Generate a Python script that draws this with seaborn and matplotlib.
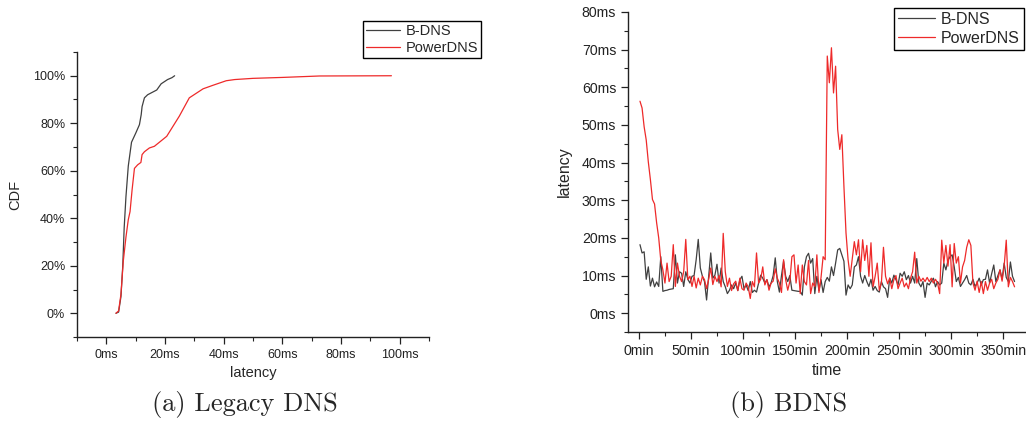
import numpy as np
import pandas as pd
import matplotlib
matplotlib.use("Agg")
import matplotlib.pyplot as plt
import seaborn as sns
from matplotlib.ticker import MultipleLocator, FuncFormatter

# (a) CDF of latency, legacy DNS
bdns_cdf_ms = [3.3, 4.2, 5.0, 5.6, 6.1, 6.7, 7.5, 8.6, 10.1, 11.3, 11.9, 12.2, 13.0, 14.1,
               17.2, 18.7, 20.9, 22.4, 23.3]
bdns_cdf_pct = [0, 0.5, 7, 19.6, 36, 49, 62, 72, 76, 79.4, 83.6, 87, 90.7, 92,
                94, 96.6, 98.4, 99.2, 100]
pdns_cdf_ms = [3.3, 4.2, 5.0, 5.8, 6.7, 7.5, 8.1, 8.8, 9.6, 10.7, 11.8, 12.2, 13.0, 14.7,
               16.4, 20.6, 24.9, 28.3, 33.0, 36.4, 40.9, 43.8, 50.0, 60.2, 72.7, 97.2]
pdns_cdf_pct = [0, 1, 8, 22, 32, 39.4, 42.8, 52, 61, 62.5, 63.5, 66.8, 68, 69.6,
                70.3, 74.5, 83, 90.7, 94.5, 96, 97.9, 98.4, 98.9, 99.3, 99.9, 100]

# (b) latency over time, sampled every 2 min starting at 1 min
bdns_latency = [
    18.2, 16.0, 16.3, 9.0, 12.3, 7.2, 9.3, 7.0, 8.3, 7.1,
    15.0, 5.8, 6.0, 6.1, 6.3, 6.4, 6.5, 15.5, 8.0, 11.0,
    10.6, 7.1, 11.0, 9.0, 8.0, 9.8, 10.0, 14.2, 19.6, 12.0,
    9.8, 8.4, 3.5, 9.8, 16.0, 9.3, 10.1, 13.0, 8.0, 12.0,
    8.4, 7.0, 5.2, 6.1, 7.5, 6.5, 8.0, 6.0, 8.9, 9.8,
    6.5, 7.5, 6.0, 8.4, 5.5, 6.1, 5.6, 8.0, 10.1, 9.3,
    8.0, 8.9, 7.0, 8.0, 10.0, 14.7, 8.4, 5.6, 10.0, 13.8,
    9.8, 8.4, 10.0, 6.1, 6.0, 5.9, 5.8, 5.8, 4.8, 12.3,
    15.0, 15.9, 13.3, 14.5, 5.2, 9.8, 6.0, 8.9, 5.5, 8.4,
    9.5, 8.5, 12.3, 10.0, 13.3, 16.8, 17.2, 15.5, 13.8, 4.8,
    7.5, 6.5, 7.5, 12.3, 12.8, 15.0, 9.8, 8.0, 10.0, 8.4,
    7.1, 9.0, 6.1, 7.1, 6.0, 5.6, 8.4, 7.0, 6.5, 4.2,
    9.3, 8.0, 10.1, 8.9, 7.5, 10.6, 9.8, 11.0, 8.9, 10.0,
    8.0, 9.8, 8.0, 14.5, 8.0, 7.0, 8.4, 4.2, 8.0, 7.5,
    8.5, 9.3, 7.0, 8.4, 7.5, 8.0, 13.3, 11.5, 14.0, 15.0,
    15.5, 12.3, 8.4, 9.5, 7.1, 8.0, 8.9, 10.0, 8.0, 7.5,
    9.0, 7.1, 8.0, 9.3, 7.5, 8.9, 9.0, 11.5, 8.0, 10.5,
    12.8, 8.4, 10.0, 11.5, 9.0, 13.3, 9.5, 8.4, 13.6, 9.8,
    8.4,
]
pdns_latency = [
    56.3, 54.5, 49.5, 46.0, 40.2, 35.5, 30.2, 29.0, 24.0, 20.0,
    14.0, 11.5, 8.0, 13.3, 8.4, 9.8, 18.2, 7.1, 13.3, 9.8,
    8.4, 11.0, 19.6, 8.9, 9.8, 7.1, 9.8, 6.7, 9.3, 7.5,
    9.8, 8.9, 6.5, 9.0, 12.0, 7.6, 9.8, 8.4, 10.0, 7.0,
    21.2, 11.0, 7.1, 9.3, 6.0, 7.8, 8.5, 6.0, 9.3, 6.5,
    6.1, 8.0, 7.0, 3.9, 8.4, 7.0, 16.0, 8.0, 9.0, 12.3,
    7.5, 8.9, 6.1, 8.0, 8.5, 11.8, 9.3, 8.0, 5.5, 14.2,
    8.9, 6.1, 8.4, 15.0, 15.5, 8.0, 12.8, 5.2, 12.8, 8.4,
    7.5, 14.0, 5.2, 8.0, 7.1, 15.5, 5.5, 9.5, 15.0, 14.2,
    68.3, 61.2, 70.5, 58.5, 65.6, 48.8, 43.5, 47.4, 33.7, 21.3,
    14.2, 9.8, 14.5, 19.0, 15.5, 19.5, 11.0, 19.5, 14.0, 18.0,
    9.8, 18.7, 7.0, 9.8, 13.3, 6.1, 8.0, 17.5, 9.8, 7.8,
    9.3, 6.5, 8.9, 10.0, 6.5, 8.0, 9.3, 7.0, 8.0, 6.5,
    9.3, 11.0, 16.2, 8.0, 9.8, 8.5, 9.3, 8.4, 9.5, 8.4,
    9.3, 8.0, 9.0, 8.0, 5.2, 19.4, 13.3, 18.0, 12.5, 18.2,
    7.0, 18.5, 13.3, 15.0, 8.0, 12.3, 14.0, 17.5, 19.5, 18.0,
    8.0, 6.1, 8.5, 5.5, 8.4, 5.2, 8.4, 6.1, 8.0, 9.0,
    6.5, 8.0, 9.0, 11.5, 8.5, 12.5, 19.4, 7.0, 9.5, 8.4,
    7.0,
]

series_names = ["B-DNS", "PowerDNS"]
colors = ["#404040", "#ee2a2a"]

sns.set_style("ticks")
plt.rcParams["font.family"] = ["Liberation Sans", "DejaVu Sans"]

fig = plt.figure(figsize=(10.26, 4.21), dpi=100)
ax1 = fig.add_axes([0.0750, 0.1995, 0.3431, 0.6770])
ax2 = fig.add_axes([0.6121, 0.2114, 0.3869, 0.7601])

# ---- (a) CDF
sns.lineplot(x=bdns_cdf_ms, y=bdns_cdf_pct, ax=ax1, color=colors[0], lw=0.9,
             label=series_names[0], sort=False, estimator=None)
sns.lineplot(x=pdns_cdf_ms, y=pdns_cdf_pct, ax=ax1, color=colors[1], lw=0.9,
             label=series_names[1], sort=False, estimator=None)
ax1.set_xlim(-10, 110)
ax1.set_ylim(-10, 110)
ax1.xaxis.set_major_locator(MultipleLocator(20))
ax1.xaxis.set_minor_locator(MultipleLocator(10))
ax1.yaxis.set_major_locator(MultipleLocator(20))
ax1.yaxis.set_minor_locator(MultipleLocator(10))
ax1.xaxis.set_major_formatter(FuncFormatter(lambda v, p: f"{v:.0f}ms"))
ax1.yaxis.set_major_formatter(FuncFormatter(lambda v, p: f"{v:.0f}%"))
ax1.tick_params(labelsize=9, colors="#222222")
ax1.set_xlabel("latency", fontsize=10.5, labelpad=4)
ax1.set_ylabel("CDF", fontsize=10.5, labelpad=8)
ax1.legend(loc="upper right", bbox_to_anchor=(0.4688, 0.950), bbox_transform=fig.transFigure,
           fontsize=10.5, fancybox=False, edgecolor="black", framealpha=1,
           handlelength=2.3, borderpad=0.2, labelspacing=0.2, handletextpad=0.4,
           borderaxespad=0)

# ---- (b) time series
time_min = np.arange(len(bdns_latency)) * 2 + 1
ts = pd.DataFrame({"time": np.concatenate([time_min, time_min]),
                   "latency": bdns_latency + pdns_latency,
                   "server": [series_names[0]] * len(bdns_latency) + [series_names[1]] * len(pdns_latency)})
sns.lineplot(data=ts, x="time", y="latency", hue="server", palette=colors, ax=ax2,
             lw=0.9, estimator=None)
ax2.set_xlim(-10.5, 371)
ax2.set_ylim(-5, 80)
ax2.xaxis.set_major_locator(MultipleLocator(50))
ax2.xaxis.set_minor_locator(MultipleLocator(25))
ax2.yaxis.set_major_locator(MultipleLocator(10))
ax2.yaxis.set_minor_locator(MultipleLocator(5))
ax2.xaxis.set_major_formatter(FuncFormatter(lambda v, p: f"{v:.0f}min"))
ax2.yaxis.set_major_formatter(FuncFormatter(lambda v, p: f"{v:.0f}ms"))
ax2.tick_params(labelsize=10.2, colors="#222222")
ax2.set_xlabel("time", fontsize=11.5, labelpad=4)
ax2.set_ylabel("latency", fontsize=11.5, labelpad=7)
ax2.legend(loc="upper right", bbox_to_anchor=(0.998, 0.981), bbox_transform=fig.transFigure,
           fontsize=11.5, fancybox=False, edgecolor="black", framealpha=1,
           handlelength=2.3, borderpad=0.25, labelspacing=0.25, handletextpad=0.4,
           borderaxespad=0, title=None)

for ax in (ax1, ax2):
    sns.despine(ax=ax)
    for s in ("left", "bottom"):
        ax.spines[s].set_color("#222222")
        ax.spines[s].set_linewidth(1.0)
    ax.tick_params(which="major", direction="out", length=5, width=0.9)
    ax.tick_params(which="minor", direction="out", length=3, width=0.8, colors="#222222")
    ax.set_facecolor("white")

fig.text(0.239, 0.040, "(a) Legacy DNS", fontsize=19, family="cmr10", ha="center", va="center")
fig.text(0.769, 0.040, "(b) BDNS", fontsize=19, family="cmr10", ha="center", va="center")

fig.savefig("out.png", dpi=100, facecolor="white")
